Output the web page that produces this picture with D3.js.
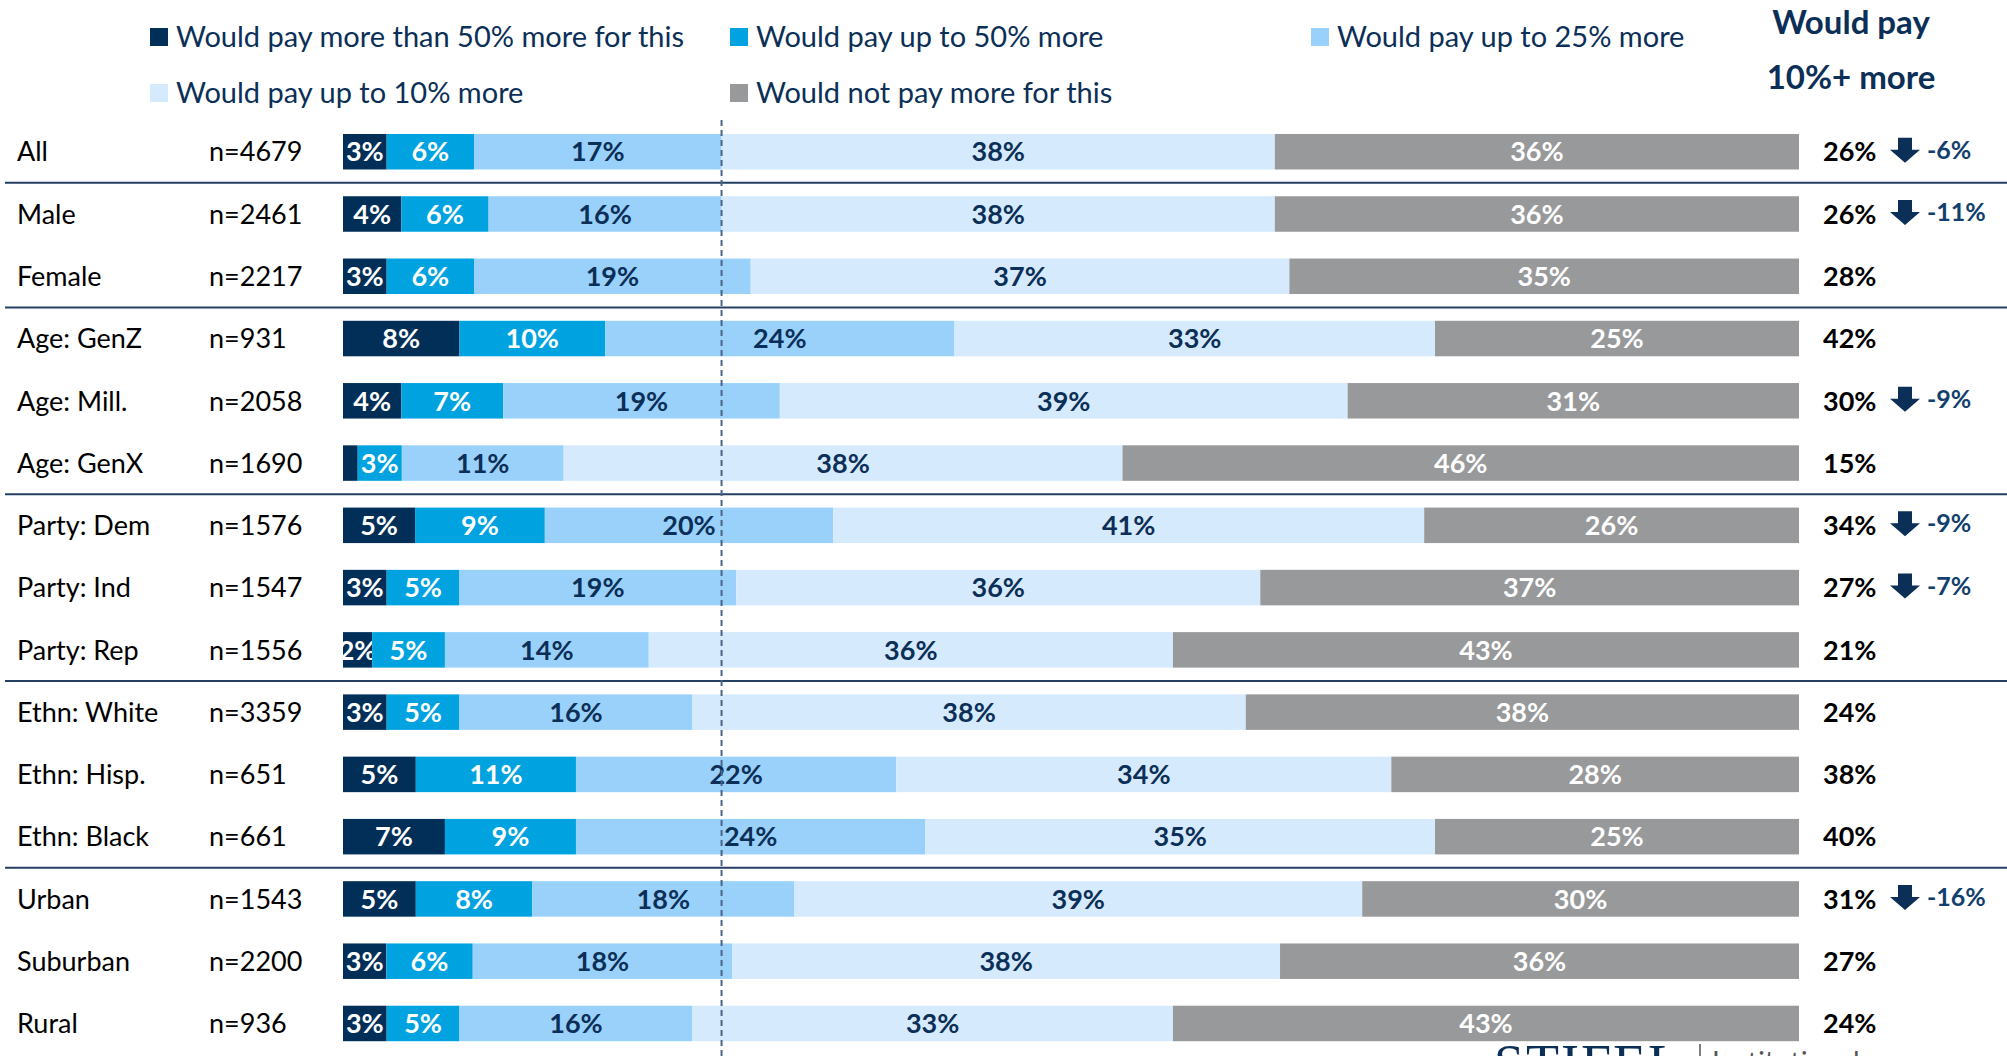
<!DOCTYPE html>
<html>
<head>
<meta charset="utf-8">
<script src="https://cdn.jsdelivr.net/npm/d3@7"></script>
<style>
  body { margin: 0; background: #fff; }
  svg { display: block; font-family: Lato, "Open Sans", sans-serif; }
</style>
</head>
<body>
<div id="chart"></div>
<script>
// rows
const categories = ['All', 'Male', 'Female', 'Age: GenZ', 'Age: Mill.', 'Age: GenX',
  'Party: Dem', 'Party: Ind', 'Party: Rep', 'Ethn: White', 'Ethn: Hisp.', 'Ethn: Black',
  'Urban', 'Suburban', 'Rural'];
const sampleSizes = ['n=4679', 'n=2461', 'n=2217', 'n=931', 'n=2058', 'n=1690',
  'n=1576', 'n=1547', 'n=1556', 'n=3359', 'n=651', 'n=661', 'n=1543', 'n=2200', 'n=936'];

// series (percent)
const seriesNames = ['Would pay more than 50% more for this', 'Would pay up to 50% more',
  'Would pay up to 25% more', 'Would pay up to 10% more', 'Would not pay more for this'];
const over50 = [3, 4, 3, 8, 4, 1, 5, 3, 2, 3, 5, 7, 5, 3, 3];
const upTo50 = [6, 6, 6, 10, 7, 3, 9, 5, 5, 5, 11, 9, 8, 6, 5];
const upTo25 = [17, 16, 19, 24, 19, 11, 20, 19, 14, 16, 22, 24, 18, 18, 16];
const upTo10 = [38, 38, 37, 33, 39, 38, 41, 36, 36, 38, 34, 35, 39, 38, 33];
const notMore = [36, 36, 35, 25, 31, 46, 26, 37, 43, 38, 28, 25, 30, 36, 43];

// right column
const pay10Plus = [26, 26, 28, 42, 30, 15, 34, 27, 21, 24, 38, 40, 31, 27, 24];
const change = [-6, -11, null, null, -9, null, -9, -7, null, null, null, null, -16, null, null];

// groups end after these rows
const groupEnds = ['All', 'Female', 'Age: GenX', 'Party: Rep', 'Ethn: Black'];

const colors = ['#022f58', '#00a3e0', '#99d1fb', '#d5eafc', '#98999b'];
const labelColors = ['#fff', '#fff', '#0b2f57', '#0b2f57', '#fff'];
const navy = '#0b2f57';

const W = 2007, H = 1056;
const svg = d3.select('#chart').append('svg')
  .attr('width', W).attr('height', H);

const rows = categories.map((c, i) => ({
  cat: c, s0: over50[i], s1: upTo50[i], s2: upTo25[i], s3: upTo10[i], s4: notMore[i]
}));
const keys = ['s0', 's1', 's2', 's3', 's4'];
const stacked = d3.stack().keys(keys).offset(d3.stackOffsetExpand)(rows);

const x = d3.scaleLinear().domain([0, 1]).range([343, 1799]);
const y = d3.scaleBand().domain(categories)
  .range([120.6, 1054.6]).paddingInner(0.43).paddingOuter(0.215);

// separators
const step = y.step();
svg.append('g').selectAll('line')
  .data(groupEnds)
  .join('line')
  .attr('x1', 5).attr('x2', W)
  .attr('y1', d => y(d) + y.bandwidth() / 2 + step / 2)
  .attr('y2', d => y(d) + y.bandwidth() / 2 + step / 2)
  .attr('stroke', '#243f62').attr('stroke-width', 2);

// bars
const layer = svg.append('g').selectAll('g')
  .data(stacked)
  .join('g')
  .attr('fill', (d, i) => colors[i]);

layer.selectAll('rect')
  .data(d => d)
  .join('rect')
  .attr('x', d => x(d[0]))
  .attr('y', d => y(d.data.cat))
  .attr('width', d => x(d[1]) - x(d[0]))
  .attr('height', y.bandwidth());

layer.selectAll('text')
  .data((d, i) => d.map(v => ({v, key: d.key, idx: i})))
  .join('text')
  .filter(d => d.v.data[d.key] >= 2)
  .attr('x', d => (x(d.v[0]) + x(d.v[1])) / 2)
  .attr('y', d => y(d.v.data.cat) + y.bandwidth() / 2)
  .attr('dy', '0.36em')
  .attr('text-anchor', 'middle')
  .attr('font-size', 27)
  .attr('font-weight', 700)
  .attr('fill', d => labelColors[d.idx])
  .text(d => d.v.data[d.key] + '%');

// dashed reference line at total 10%+ for "All"
const allTop = stacked[2][0][1];
svg.append('line')
  .attr('x1', x(allTop)).attr('x2', x(allTop))
  .attr('y1', 120).attr('y2', H)
  .attr('stroke', '#4a6585').attr('stroke-width', 2)
  .attr('stroke-dasharray', '6,4');

// row labels
svg.append('g').selectAll('text')
  .data(categories)
  .join('text')
  .attr('x', 17)
  .attr('y', d => y(d) + y.bandwidth() / 2)
  .attr('dy', '0.36em')
  .attr('font-size', 27)
  .attr('fill', '#000')
  .text(d => d);

svg.append('g').selectAll('text')
  .data(sampleSizes)
  .join('text')
  .attr('x', 209)
  .attr('y', (d, i) => y(categories[i]) + y.bandwidth() / 2)
  .attr('dy', '0.36em')
  .attr('font-size', 27)
  .attr('fill', '#000')
  .text(d => d);

// right column values
svg.append('g').selectAll('text')
  .data(pay10Plus)
  .join('text')
  .attr('x', 1823)
  .attr('y', (d, i) => y(categories[i]) + y.bandwidth() / 2)
  .attr('dy', '0.36em')
  .attr('font-size', 27)
  .attr('font-weight', 700)
  .attr('fill', '#000')
  .text(d => d + '%');

const changes = change.map((c, i) => ({c, cat: categories[i]})).filter(d => d.c !== null);
const chg = svg.append('g').selectAll('g')
  .data(changes)
  .join('g')
  .attr('transform', d => `translate(1905, ${y(d.cat) + y.bandwidth() / 2 - 2})`);

chg.append('path')
  .attr('d', 'M-7,-12 L7,-12 L7,0 L15,0 L0,13 L-15,0 L-7,0 Z')
  .attr('fill', navy);

chg.append('text')
  .attr('x', 22)
  .attr('dy', '0.36em')
  .attr('font-size', 25)
  .attr('font-weight', 700)
  .attr('fill', '#12406e')
  .text(d => d.c + '%');

// legend
const legendPos = [[150, 37], [730, 37], [1311, 37], [150, 93], [730, 93]];
const legend = svg.append('g').selectAll('g')
  .data(seriesNames)
  .join('g')
  .attr('transform', (d, i) => `translate(${legendPos[i][0]}, ${legendPos[i][1]})`);

legend.append('rect')
  .attr('x', 0).attr('y', -9)
  .attr('width', 18).attr('height', 18)
  .attr('fill', (d, i) => colors[i]);

legend.append('text')
  .attr('x', 26)
  .attr('dy', '0.36em')
  .attr('font-size', 29)
  .attr('fill', navy)
  .text(d => d);

// header of right column
svg.append('text')
  .attr('x', 1851).attr('y', 22).attr('dy', '0.36em')
  .attr('text-anchor', 'middle')
  .attr('font-size', 33).attr('font-weight', 700)
  .attr('fill', navy)
  .text('Would pay');
svg.append('text')
  .attr('x', 1851).attr('y', 77).attr('dy', '0.36em')
  .attr('text-anchor', 'middle')
  .attr('font-size', 33).attr('font-weight', 700)
  .attr('fill', navy)
  .text('10%+ more');

// logo peeking at bottom
svg.append('text')
  .attr('x', 1494).attr('y', 1082)
  .attr('font-family', '"Liberation Serif", serif')
  .attr('font-size', 54)
  .attr('letter-spacing', 2)
  .attr('fill', navy)
  .text('STIFEL');
svg.append('line')
  .attr('x1', 1700).attr('x2', 1700).attr('y1', 1044).attr('y2', H)
  .attr('stroke', '#555').attr('stroke-width', 1.5);
svg.append('text')
  .attr('x', 1712).attr('y', 1072)
  .attr('font-size', 28)
  .attr('fill', '#555')
  .text('Institutional');
</script>
</body>
</html>
